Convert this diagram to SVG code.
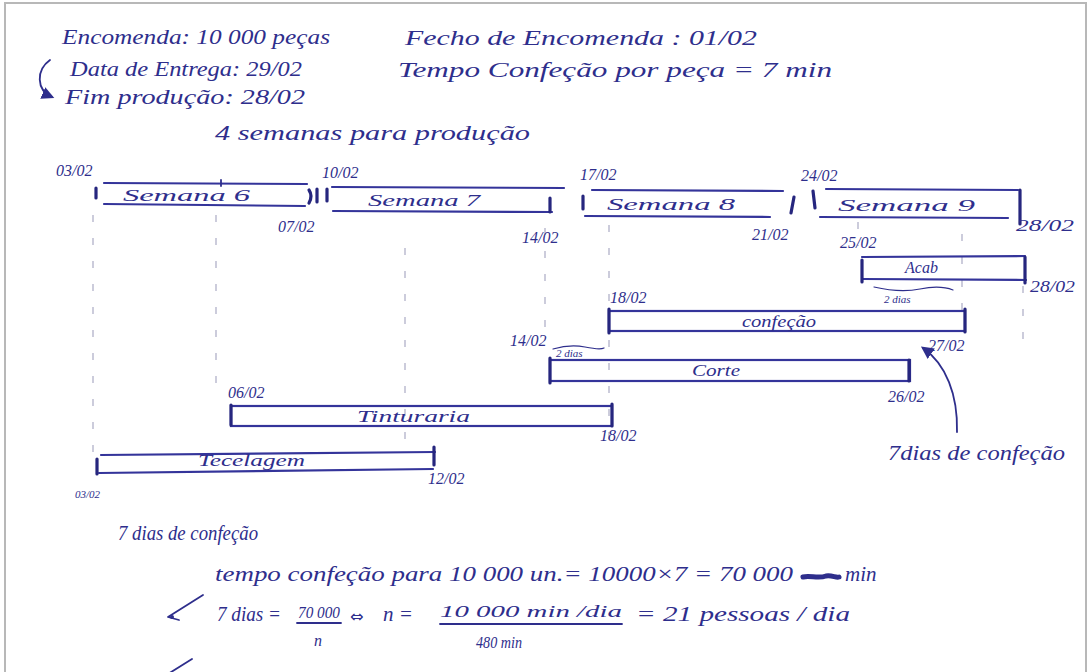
<svg xmlns="http://www.w3.org/2000/svg" width="1091" height="672" viewBox="0 0 1091 672">
<defs>
<style>
.t{font-family:"Liberation Serif","DejaVu Serif",serif;font-style:italic;fill:#2e2e8c}
.h{font-size:21px}
.d{font-size:16px}
.s{font-size:11px}
.bar{stroke:#34349a;stroke-width:2.2;fill:none;stroke-linecap:round}
.tick{stroke:#26267e;stroke-width:3.2;fill:none;stroke-linecap:round}
.guide{stroke:#a3a3bf;stroke-width:1.1;stroke-dasharray:7 16;fill:none}
.ink{stroke:#2e2e8c;stroke-width:1.8;fill:none;stroke-linecap:round;stroke-linejoin:round}
.thin{stroke-width:1.2}
.blot{stroke-width:5}
</style>
<marker id="ah" viewBox="0 0 10 10" refX="8" refY="5" markerWidth="7" markerHeight="7" orient="auto-start-reverse">
<path d="M0,0 L10,5 L0,10 z" fill="#2e2e8c"/>
</marker>
</defs>
<rect x="0" y="0" width="1091" height="672" fill="#ffffff"/>
<rect x="5" y="3" width="1081" height="680" fill="none" stroke="#b8b8b8" stroke-width="2"/>

<g id="header">
<text class="t h" x="62" y="44" textLength="268" lengthAdjust="spacingAndGlyphs">Encomenda: 10 000 peças</text>
<text class="t h" x="405" y="45" textLength="352" lengthAdjust="spacingAndGlyphs">Fecho de Encomenda : 01/02</text>
<text class="t h" x="70" y="76" textLength="232" lengthAdjust="spacingAndGlyphs">Data de Entrega: 29/02</text>
<text class="t h" x="398" y="77" textLength="434" lengthAdjust="spacingAndGlyphs">Tempo Confeção por peça = 7 min</text>
<text class="t h" x="65" y="104" textLength="240" lengthAdjust="spacingAndGlyphs">Fim produção: 28/02</text>
<text class="t h" x="215" y="140" textLength="315" lengthAdjust="spacingAndGlyphs">4 semanas para produção</text>
</g>

<g id="guides">
<path class="guide" d="M93,215 V455"/>
<path class="guide" d="M216,215 V388"/>
<path class="guide" d="M405,248 V442"/>
<path class="guide" d="M545,228 V336"/>
<path class="guide" d="M609,225 V440"/>
<path class="guide" d="M858,222 V246"/>
<path class="guide" d="M962,234 V310"/>
<path class="guide" d="M1023,286 V352"/>
</g>

<g id="semana6">
<text class="t d" x="56" y="176">03/02</text>
<path class="bar" d="M104,183 L307,184 M104,204 L305,206"/>
<path class="tick" d="M96,188 V198"/>
<path class="ink" d="M221,180 V186"/>
<text class="t d" x="123" y="201" textLength="127" lengthAdjust="spacingAndGlyphs">Semana 6</text>
<path class="tick" d="M309,190 Q313,196 309,203 M317,189 V202"/>
<text class="t d" x="278" y="232">07/02</text>
</g>

<g id="semana7">
<text class="t d" x="322" y="178">10/02</text>
<path class="bar" d="M332,187 L564,188 M333,211 L552,212"/>
<path class="tick" d="M327,189 V201"/>
<text class="t d" x="368" y="206" textLength="112" lengthAdjust="spacingAndGlyphs">Semana 7</text>
<path class="tick" d="M550,198 V212"/>
<text class="t d" x="522" y="243">14/02</text>
</g>

<g id="semana8">
<text class="t d" x="580" y="180">17/02</text>
<path class="bar" d="M592,190 L783,191 M585,216 L770,217"/>
<path class="tick" d="M583,196 V209"/>
<text class="t d" x="607" y="210" textLength="128" lengthAdjust="spacingAndGlyphs">Semana 8</text>
<path class="tick" d="M794,197 L791,213"/>
<text class="t d" x="752" y="240">21/02</text>
</g>

<g id="semana9">
<text class="t d" x="801" y="181">24/02</text>
<path class="bar" d="M826,189 L1018,190 M820,217 L1008,218"/>
<path class="tick" d="M813,191 L815,208"/>
<text class="t d" x="838" y="211" textLength="137" lengthAdjust="spacingAndGlyphs">Semana 9</text>
<path class="tick" d="M1020,190 V224"/>
<text class="t d" x="1016" y="231" textLength="58" lengthAdjust="spacingAndGlyphs">28/02</text>
</g>

<g id="acab">
<text class="t d" x="840" y="248">25/02</text>
<path class="bar" d="M862,257 L1025,256 M862,279 L1026,280"/>
<path class="tick" d="M862,260 V282 M1025,257 V283"/>
<text class="t d" x="905" y="273">Acab</text>
<path class="ink thin" d="M874,287 Q900,293 920,289 T953,290"/>
<text class="t s" x="884" y="303">2 dias</text>
<text class="t d" x="1030" y="292" textLength="45" lengthAdjust="spacingAndGlyphs">28/02</text>
</g>

<g id="confecao">
<text class="t d" x="610" y="303">18/02</text>
<rect class="bar" x="609" y="311" width="356" height="20"/>
<path class="tick" d="M609,309 V333 M965,309 V332"/>
<text class="t d" x="742" y="327" textLength="74" lengthAdjust="spacingAndGlyphs">confeção</text>
</g>

<g id="corte">
<text class="t d" x="510" y="346">14/02</text>
<path class="ink thin" d="M553,349 Q570,344 585,347 T604,348"/>
<text class="t s" x="556" y="357">2 dias</text>
<rect class="bar" x="550" y="360" width="360" height="21"/>
<path class="tick" d="M550,358 V383 M909,360 V381"/>
<text class="t d" x="692" y="376" textLength="48" lengthAdjust="spacingAndGlyphs">Corte</text>
<text class="t d" x="928" y="351">27/02</text>
<text class="t d" x="888" y="402">26/02</text>
</g>

<g id="tinturaria">
<text class="t d" x="228" y="398">06/02</text>
<rect class="bar" x="231" y="406" width="381" height="20"/>
<path class="tick" d="M231,405 V425 M612,404 V426"/>
<text class="t d" x="357" y="422" textLength="113" lengthAdjust="spacingAndGlyphs">Tinturaria</text>
<text class="t d" x="600" y="441">18/02</text>
</g>

<g id="tecelagem">
<path class="bar" d="M101,455 L435,452 M99,473 L433,469"/>
<path class="tick" d="M97,459 V474 M434,447 V465"/>
<text class="t d" x="198" y="466" textLength="107" lengthAdjust="spacingAndGlyphs">Tecelagem</text>
<text class="t d" x="428" y="484">12/02</text>
<text class="t s" x="75" y="498">03/02</text>
</g>

<g id="note-confecao">
<text class="t h" x="888" y="460" textLength="177" lengthAdjust="spacingAndGlyphs">7dias de confeção</text>
</g>

<g id="connectors">
<path class="ink" d="M50,60 C36,70 36,90 52,97" marker-end="url(#ah)"/>
<path class="ink" d="M957,432 C958,395 946,364 923,348" marker-end="url(#ah)"/>
<path class="ink" d="M203,595 L168,617 L179,620"/>
<circle cx="172" cy="617" r="2" fill="#2e2e8c"/>
<path class="ink" d="M192,659 L168,674"/>
</g>

<g id="calculo">
<text class="t h" x="118" y="540" textLength="140" lengthAdjust="spacingAndGlyphs">7 dias de confeção</text>
<text class="t h" x="215" y="581" textLength="578" lengthAdjust="spacingAndGlyphs">tempo confeção para 10 000 un.= 10000×7 = 70 000</text>
<path class="ink blot" d="M803,577 C810,575 818,579 826,576 C832,575 836,578 839,577"/>
<text class="t h" x="845" y="581">min</text>
<text class="t h" x="217" y="621" textLength="64" lengthAdjust="spacingAndGlyphs">7 dias =</text>
<text class="t d" x="298" y="618" textLength="42" lengthAdjust="spacingAndGlyphs">70 000</text>
<path class="ink" d="M297,623 L341,623"/>
<text class="t d" x="314" y="646">n</text>
<text x="350" y="622" font-family="DejaVu Sans, sans-serif" font-size="16" fill="#2e2e8c">⇔</text>
<text class="t h" x="383" y="621">n =</text>
<text class="t d" x="440" y="617" textLength="182" lengthAdjust="spacingAndGlyphs">10 000 min /dia</text>
<path class="ink" d="M440,624 L622,624"/>
<text class="t d" x="476" y="648" textLength="46" lengthAdjust="spacingAndGlyphs">480 min</text>
<text class="t h" x="636" y="621" textLength="214" lengthAdjust="spacingAndGlyphs">= 21 pessoas / dia</text>
</g>
</svg>
